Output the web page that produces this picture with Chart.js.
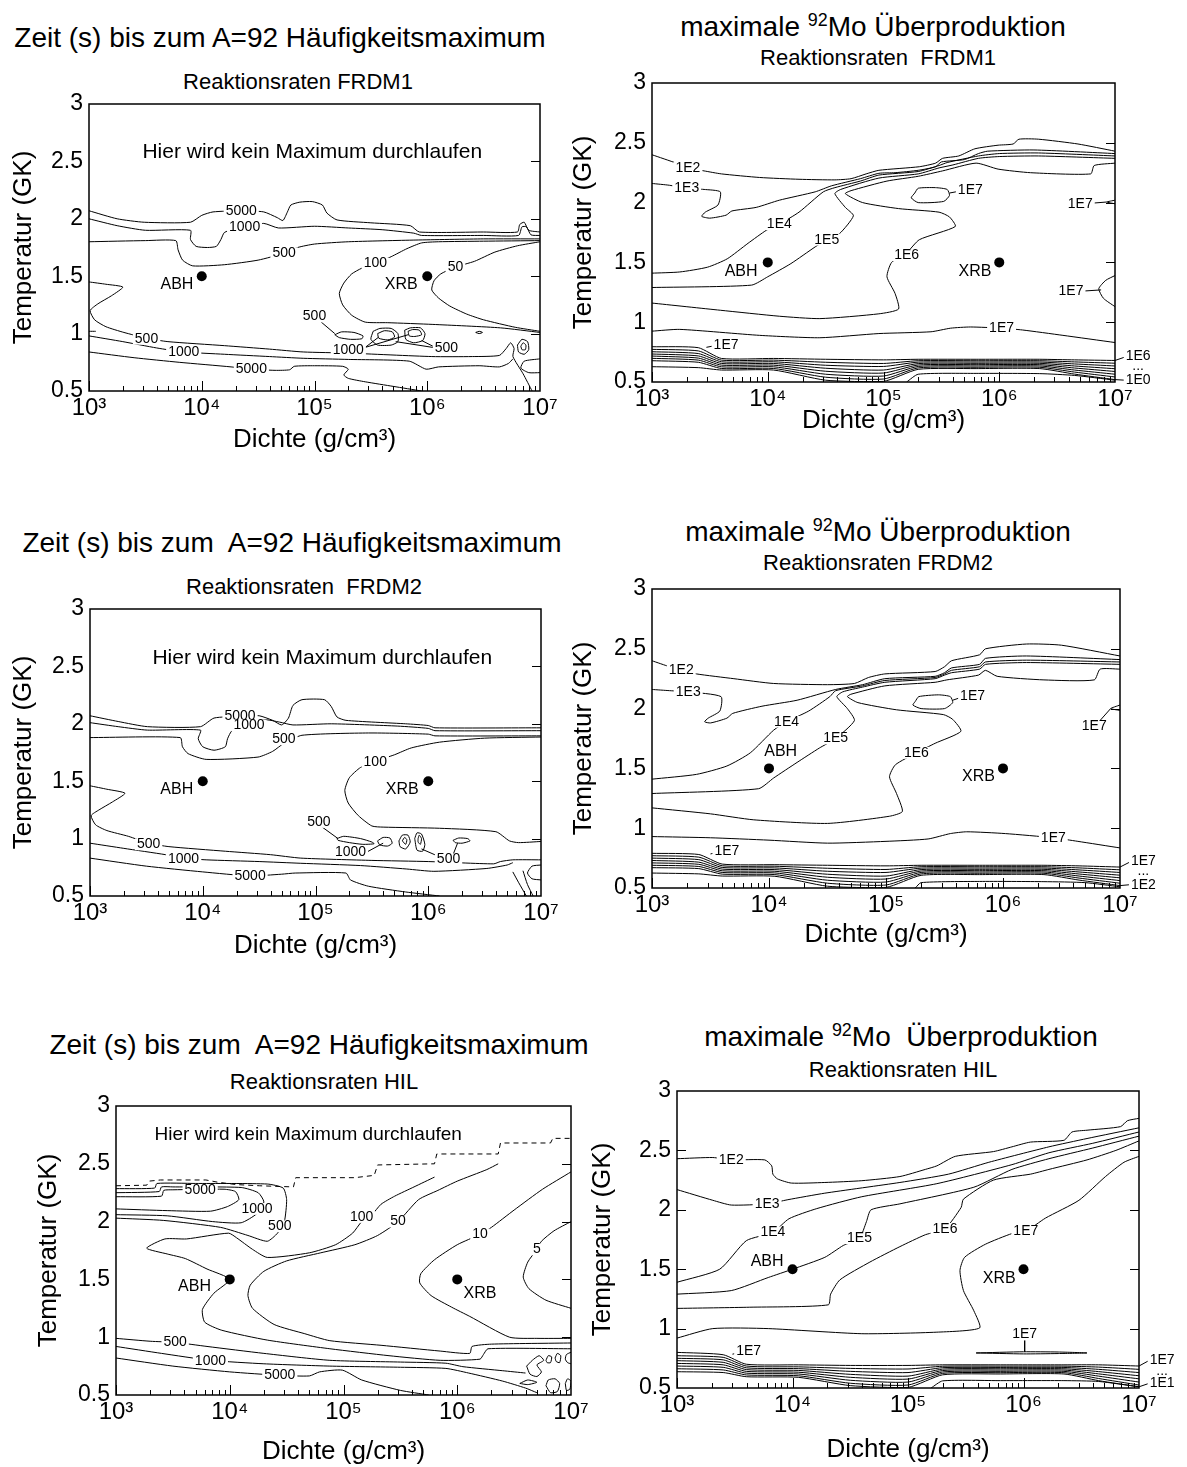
<!DOCTYPE html>
<html>
<head>
<meta charset="utf-8">
<script src="https://cdn.jsdelivr.net/npm/chart.js@4.4.1/dist/chart.umd.min.js"></script>
<style>
  body { margin: 0; background: #fff; width: 1187px; height: 1467px; position: relative; overflow: hidden; }
  canvas { position: absolute; }
  .ttl, .sub { position: absolute; transform: translate(-50%, -50%); white-space: nowrap; line-height: 1;
               font-family: "Liberation Sans", Arial, Helvetica, sans-serif; color: #000; }
  .ttl { font-size: 28px; }
  .sub { font-size: 22px; }
  .sp { font-size: 0.64em; position: relative; top: -0.55em; }
</style>
</head>
<body>
<div class="ttl" style="left:280px;top:38px">Zeit (s) bis zum A=92 Häufigkeitsmaximum</div>
<div class="sub" style="left:298px;top:82px">Reaktionsraten FRDM1</div>
<div class="ttl" style="left:873px;top:27px">maximale <span class="sp">92</span>Mo Überproduktion</div>
<div class="sub" style="left:878px;top:58px">Reaktionsraten&nbsp; FRDM1</div>
<div class="ttl" style="left:292px;top:543px">Zeit (s) bis zum&nbsp; A=92 Häufigkeitsmaximum</div>
<div class="sub" style="left:304px;top:587px">Reaktionsraten&nbsp; FRDM2</div>
<div class="ttl" style="left:878px;top:532px">maximale <span class="sp">92</span>Mo Überproduktion</div>
<div class="sub" style="left:878px;top:563px">Reaktionsraten FRDM2</div>
<div class="ttl" style="left:319px;top:1045px">Zeit (s) bis zum&nbsp; A=92 Häufigkeitsmaximum</div>
<div class="sub" style="left:324px;top:1082px">Reaktionsraten HIL</div>
<div class="ttl" style="left:901px;top:1037px">maximale <span class="sp">92</span>Mo&nbsp; Überproduktion</div>
<div class="sub" style="left:903px;top:1070px">Reaktionsraten HIL</div>

<script>
const FONT = '"Liberation Sans", Arial, Helvetica, sans-serif';

// axes
const densityDecades = [3, 4, 5, 6, 7];          // 10^3 ... 10^7 g/cm3
const tempTicks = [0.5, 1, 1.5, 2, 2.5, 3];       // GK
const SUP = { 3: '³', 4: '⁴', 5: '⁵', 6: '⁶', 7: '⁷' };

// the two marked sites (ABH, XRB)
const siteRho = [1e4, 1e6];
const siteT = [1.5, 1.5];

// contour points are [log10(density), T9]

// ---------- panel 1: time to A=92 maximum, FRDM1 ----------
const p1_5000a = [[3,2.07],[3.25,2.0],[3.49,1.97],[3.9,1.97],[4.0,2.03],[4.1,2.06],[4.35,2.07],[4.55,2.06],[4.67,2.01],[4.72,1.985],[4.76,2.06],[4.79,2.12],[4.87,2.145],[4.98,2.15],[5.07,2.12],[5.11,2.05],[5.2,1.99],[5.5,1.965],[5.85,1.94],[5.93,1.885],[6.5,1.885],[6.8,1.885],[6.82,1.95],[6.86,1.97],[6.9,1.9],[7,1.885]];
const p1_1000a = [[3,2.0],[3.25,1.94],[3.5,1.9],[3.9,1.9],[3.9,1.82],[3.95,1.76],[4.05,1.75],[4.13,1.76],[4.17,1.82],[4.2,1.88],[4.28,1.91],[4.38,1.93],[4.55,1.96],[4.68,1.92],[5.0,1.935],[5.3,1.92],[5.6,1.905],[5.88,1.875],[5.95,1.855],[6.5,1.855],[6.81,1.855],[6.84,1.93],[6.88,1.93],[6.92,1.86],[7,1.855]];
const p1_500a = [[3,1.8],[3.5,1.81],[3.77,1.81],[3.79,1.73],[3.83,1.64],[3.92,1.59],[4.2,1.6],[4.5,1.64],[4.73,1.7],[4.85,1.75],[5.0,1.78],[5.3,1.8],[5.9,1.815],[6.5,1.825],[7,1.825]];
const p1_100 = [[7,1.81],[6.5,1.805],[6.1,1.8],[5.95,1.79],[5.82,1.74],[5.68,1.67],[5.54,1.61],[5.42,1.57],[5.33,1.52],[5.26,1.44],[5.22,1.35],[5.25,1.25],[5.33,1.16],[5.45,1.1],[5.65,1.095],[6.05,1.08],[6.65,1.05],[7,1.01]];
const p1_50 = [[7,1.8],[6.8,1.765],[6.6,1.71],[6.42,1.63],[6.25,1.58],[6.12,1.52],[6.06,1.46],[6.04,1.38],[6.1,1.31],[6.2,1.24],[6.35,1.17],[6.5,1.12],[6.78,1.055],[7,1.02]];
const p1_500b = [[3,1.45],[3.15,1.43],[3.3,1.405],[3.2,1.33],[3.08,1.26],[3.01,1.2],[3.05,1.12],[3.15,1.06],[3.31,1.01],[3.51,0.96],[3.7,0.93],[4.2,0.895],[4.6,0.865],[4.9,0.84],[5.3,0.83],[6.04,0.8],[6.4,0.8],[6.64,0.81],[6.7,0.87],[6.74,0.92],[6.77,0.87],[6.76,0.8],[6.85,0.65],[6.93,0.5]];
const p1_edge = [[3,1.02],[3.06,1.02]];
const p1_1000b = [[3,0.98],[3.3,0.93],[3.6,0.875],[3.84,0.84],[4.2,0.82],[4.6,0.8],[4.9,0.785],[5.3,0.775],[5.84,0.76],[5.99,0.69],[6.1,0.71],[6.46,0.72],[6.64,0.71],[6.72,0.74],[6.76,0.78]];
const p1_5000b = [[3,0.84],[3.4,0.79],[3.8,0.75],[4.26,0.71],[4.44,0.69],[4.65,0.68],[4.78,0.685],[4.82,0.715],[5.0,0.72],[5.25,0.715],[5.3,0.69],[5.26,0.64],[5.3,0.61],[5.45,0.58],[5.7,0.54],[5.95,0.5]];
const p1_loopA = [[5.18,0.99],[5.24,1.015],[5.35,1.01],[5.43,0.98],[5.42,0.955],[5.32,0.95],[5.22,0.965],[5.18,0.99]];
const p1_loopB1 = [[5.52,1.02],[5.58,1.045],[5.68,1.045],[5.74,1.0],[5.74,0.93],[5.68,0.9],[5.56,0.9],[5.5,0.95],[5.52,1.02]];
const p1_loopB2 = [[5.56,1.0],[5.62,1.025],[5.69,1.015],[5.71,0.97],[5.65,0.945],[5.57,0.96],[5.56,1.0]];
const p1_loopC1 = [[5.8,1.03],[5.85,1.05],[5.94,1.05],[5.98,1.0],[5.96,0.94],[5.88,0.92],[5.81,0.95],[5.8,1.03]];
const p1_loopC2 = [[5.83,1.02],[5.87,1.035],[5.93,1.03],[5.95,0.99],[5.89,0.975],[5.84,0.98],[5.83,1.02]];
const p1_loopD = [[6.43,1.01],[6.46,1.02],[6.49,1.01],[6.46,1.0],[6.43,1.01]];
const p1_loopE1 = [[6.8,0.9],[6.84,0.95],[6.89,0.93],[6.9,0.86],[6.86,0.82],[6.81,0.84],[6.8,0.9]];
const p1_loopE2 = [[6.83,0.89],[6.85,0.92],[6.875,0.9],[6.87,0.86],[6.84,0.86],[6.83,0.89]];
const p1_edgeB = [[7,0.78],[6.86,0.76],[6.83,0.7],[6.9,0.66],[7,0.66]];
const p1_leaders = [[[5.06,1.1],[5.18,1.0]],[[5.45,0.88],[5.57,0.97]],[[5.45,0.88],[5.83,0.99]],[[6.08,0.875],[5.72,0.93]],[[6.08,0.875],[5.95,0.94]]];
const p1_levels = [['5000',4.35,2.07],['1000',4.38,1.93],['500',4.73,1.7],['100',5.54,1.61],['50',6.25,1.58],['500',3.51,0.955],['1000',3.84,0.835],['5000',4.44,0.69],['500',5.0,1.15],['1000',5.3,0.86],['500',6.17,0.87]];

// ---------- panel 2: max 92Mo overproduction, FRDM1 ----------
const p2_1E2 = [[3,2.4],[3.21,2.33],[3.31,2.29],[3.45,2.265],[3.6,2.24],[3.93,2.21],[4.27,2.195],[4.58,2.19],[4.72,2.2],[4.85,2.24],[4.96,2.27],[5.31,2.3],[5.45,2.33],[5.51,2.37],[5.65,2.39],[5.79,2.45],[5.99,2.48],[6.12,2.49],[6.17,2.53],[6.34,2.53],[6.68,2.49],[7,2.43]];
const p2_1E3 = [[3,2.16],[3.15,2.145],[3.3,2.12],[3.45,2.11],[3.59,2.09],[3.57,1.98],[3.46,1.92],[3.43,1.885],[3.5,1.87],[3.64,1.895],[3.69,1.93],[3.9,1.96],[4.1,2.02],[4.41,2.09],[4.55,2.14],[4.8,2.2],[4.96,2.245],[5.1,2.25],[5.3,2.27],[5.45,2.3],[5.5,2.34],[5.7,2.36],[5.82,2.41],[5.9,2.43],[6.3,2.44],[7,2.41]];
const p2_1E4 = [[3,1.41],[3.24,1.42],[3.48,1.46],[3.65,1.53],[3.83,1.66],[3.99,1.77],[4.1,1.82],[4.27,1.92],[4.48,2.09],[4.58,2.125],[4.8,2.18],[4.96,2.23],[5.3,2.26],[5.48,2.31],[5.55,2.335],[5.82,2.39],[6.0,2.41],[6.34,2.415],[7,2.39]];
const p2_1E5 = [[3,1.29],[3.86,1.31],[4.0,1.38],[4.2,1.49],[4.41,1.63],[4.51,1.69],[4.62,1.74],[4.74,1.89],[4.67,1.96],[4.58,2.075],[4.63,2.11],[4.96,2.205],[5.3,2.24],[5.48,2.29],[5.6,2.315],[5.82,2.37],[6.0,2.385],[6.34,2.39],[7,2.37]];
const p2_1E6 = [[3,1.16],[3.59,1.1],[4.1,1.05],[4.45,1.03],[4.96,1.07],[5.13,1.11],[5.1,1.24],[5.03,1.38],[5.07,1.5],[5.2,1.58],[5.31,1.69],[5.62,1.8],[5.57,1.88],[5.48,1.92],[5.13,1.95],[4.82,2.0],[4.67,2.075],[4.72,2.1],[5.03,2.18],[5.3,2.22],[5.51,2.265],[5.8,2.33],[5.99,2.28],[6.27,2.25],[6.79,2.24],[6.82,2.31],[7,2.33]];
const p2_1E7loop = [[5.27,2.08],[5.3,2.12],[5.45,2.125],[5.55,2.11],[5.57,2.06],[5.52,2.01],[5.3,2.0],[5.24,2.04],[5.27,2.08]];
const p2_1E7edge = [[7,2.02],[6.93,2.005],[7,1.99]];
const p2_1E7right = [[7,1.39],[6.92,1.35],[6.86,1.28],[6.9,1.2],[7,1.13]];
const p2_1E7long = [[3,0.925],[3.24,0.94],[3.93,0.89],[4.45,0.87],[4.96,0.905],[5.41,0.92],[5.58,0.95],[5.75,0.96],[6.02,0.95],[6.2,0.935],[6.55,0.89],[7,0.83]];
const bandE = [3, 3.4, 3.6, 4.05, 4.5, 5.0, 5.3, 5.8, 6.35, 6.65, 7];
const p2Band = [
  [0.795,0.787,0.697,0.697,0.69,0.685,0.69,0.69,0.69,0.685,0.68],
  [0.773,0.76,0.683,0.683,0.665,0.655,0.678,0.678,0.678,0.668,0.657],
  [0.753,0.738,0.669,0.669,0.64,0.63,0.666,0.667,0.667,0.651,0.634],
  [0.734,0.718,0.655,0.655,0.615,0.6,0.654,0.656,0.656,0.634,0.611],
  [0.717,0.7,0.641,0.641,0.59,0.575,0.642,0.645,0.645,0.617,0.588],
  [0.698,0.683,0.627,0.627,0.565,0.55,0.63,0.634,0.634,0.6,0.565],
  [0.678,0.665,0.613,0.613,0.54,0.525,0.618,0.623,0.623,0.583,0.542],
  [0.628,0.62,0.6,0.6,0.515,0.505,0.606,0.612,0.612,0.566,0.52]
];
const p2_lowest = [[5.2,0.5],[5.3,0.565],[5.8,0.572],[6.35,0.57],[6.65,0.555],[7,0.515]];
const p2_leaders = [[[5.57,2.08],[5.68,2.1]],[[6.93,2.005],[6.8,1.995]],[[6.88,1.27],[6.72,1.26]],[[3.47,0.79],[3.55,0.805]],[[7,0.68],[7.09,0.71]],[[7,0.52],[7.09,0.515]]];
const p2_levels = [['1E2',3.31,2.29],['1E3',3.3,2.12],['1E4',4.1,1.82],['1E5',4.51,1.69],['1E6',5.2,1.56],['1E7',5.75,2.1],['1E7',6.7,1.99],['1E7',6.62,1.26],['1E7',6.02,0.95],['1E7',3.64,0.81],['1E6',7.2,0.716],['...',7.2,0.635],['1E0',7.2,0.515]];

// ---------- panel 3: time to A=92 maximum, FRDM2 ----------
const p3_5000a = [[3,2.07],[3.25,2.02],[3.51,1.975],[3.98,1.975],[4.1,2.05],[4.33,2.065],[4.5,2.07],[4.62,2.03],[4.7,1.99],[4.76,2.05],[4.8,2.16],[4.88,2.21],[5.08,2.21],[5.14,2.15],[5.19,2.06],[5.27,2.03],[5.8,2.0],[6.0,1.985],[6.06,1.965],[7,1.965]];
const p3_1000a = [[3,2.01],[3.25,1.975],[3.51,1.945],[3.98,1.945],[3.96,1.87],[4.0,1.8],[4.1,1.77],[4.2,1.8],[4.22,1.87],[4.26,1.94],[4.41,1.985],[4.55,2.035],[4.68,2.015],[4.8,1.99],[5.14,2.0],[5.73,1.98],[6.0,1.96],[6.06,1.94],[7,1.94]];
const p3_500a = [[3,1.88],[3.8,1.88],[3.82,1.8],[3.87,1.74],[4.03,1.69],[4.49,1.71],[4.62,1.76],[4.72,1.83],[4.88,1.9],[5.47,1.92],[6.0,1.91],[6.06,1.895],[7,1.895]];
const p3_100 = [[7,1.885],[6.5,1.875],[6.1,1.84],[5.85,1.79],[5.7,1.73],[5.55,1.68],[5.4,1.62],[5.3,1.53],[5.26,1.42],[5.29,1.31],[5.38,1.2],[5.5,1.11],[5.6,1.1],[6.1,1.09],[6.6,1.06],[6.72,0.98],[6.8,0.965],[7,0.975]];
const p3_500b = [[3,1.46],[3.15,1.43],[3.31,1.395],[3.2,1.32],[3.08,1.25],[3.01,1.2],[3.05,1.12],[3.15,1.07],[3.34,1.02],[3.52,0.96],[3.7,0.93],[4.2,0.89],[4.6,0.86],[4.87,0.83],[5.5,0.81],[6.0,0.8],[6.58,0.78],[6.64,0.8],[6.75,0.815],[7,0.815]];
const p3_1000b = [[3,0.96],[3.3,0.915],[3.67,0.86],[3.83,0.83],[4.03,0.815],[4.5,0.8],[4.87,0.785],[5.4,0.765],[5.81,0.735],[6.05,0.715],[6.52,0.74],[6.7,0.77],[6.75,0.79]];
const p3_5000b = [[3,0.83],[3.5,0.76],[4.0,0.71],[4.42,0.675],[4.7,0.69],[4.82,0.7],[5.27,0.7],[5.31,0.64],[5.47,0.585],[5.8,0.535],[6.1,0.5]];
const p3_loopA = [[5.19,1.0],[5.25,1.02],[5.4,1.0],[5.5,0.97],[5.52,0.955],[5.42,0.95],[5.3,0.965],[5.2,0.985],[5.19,1.0]];
const p3_loopB = [[5.55,0.98],[5.6,1.01],[5.66,1.005],[5.68,0.96],[5.64,0.935],[5.57,0.945],[5.55,0.98]];
const p3_loopC1 = [[5.74,0.98],[5.77,1.03],[5.82,1.03],[5.84,0.97],[5.8,0.91],[5.75,0.93],[5.74,0.98]];
const p3_loopC2 = [[5.77,0.98],[5.79,1.01],[5.81,0.99],[5.8,0.95],[5.77,0.98]];
const p3_loopD1 = [[5.88,1.0],[5.9,1.05],[5.94,1.04],[5.97,0.95],[5.95,0.89],[5.9,0.9],[5.88,1.0]];
const p3_loopD2 = [[5.91,1.0],[5.92,1.03],[5.94,1.0],[5.93,0.95],[5.91,0.97],[5.91,1.0]];
const p3_loopE = [[6.22,0.985],[6.27,1.005],[6.35,1.0],[6.37,0.98],[6.3,0.96],[6.24,0.965],[6.22,0.985]];
const p3_cornerA = [[6.75,0.71],[6.8,0.62],[6.87,0.5]];
const p3_cornerB = [[6.84,0.72],[6.88,0.6],[6.93,0.5]];
const p3_cornerC = [[7,0.77],[6.92,0.76],[6.88,0.7],[6.92,0.65],[7,0.64]];
const p3_leaders = [[[5.06,1.1],[5.2,1.0]],[[5.45,0.88],[5.6,0.96]],[[6.08,0.85],[5.94,0.91]],[[6.22,0.86],[6.26,0.96]]];
const p3_levels = [['5000',4.33,2.07],['1000',4.41,1.985],['500',4.72,1.865],['100',5.53,1.67],['500',3.52,0.95],['1000',3.83,0.82],['5000',4.42,0.67],['500',5.03,1.145],['1000',5.31,0.88],['500',6.18,0.82]];

// ---------- panel 4: max 92Mo overproduction, FRDM2 ----------
const p4_1E2 = [[3,2.4],[3.15,2.35],[3.25,2.32],[3.38,2.29],[3.7,2.25],[4.04,2.21],[4.5,2.2],[4.73,2.21],[4.85,2.26],[4.99,2.29],[5.42,2.31],[5.5,2.35],[5.56,2.4],[5.8,2.45],[5.85,2.5],[6.2,2.54],[6.5,2.53],[7,2.44]];
const p4_1E3 = [[3,2.16],[3.15,2.15],[3.31,2.14],[3.59,2.1],[3.58,1.98],[3.48,1.92],[3.45,1.89],[3.5,1.88],[3.64,1.92],[3.69,1.96],[3.94,2.02],[4.24,2.07],[4.57,2.16],[4.8,2.2],[4.99,2.25],[5.42,2.27],[5.5,2.3],[5.56,2.34],[5.8,2.37],[5.85,2.42],[6.2,2.44],[7,2.41]];
const p4_1E4 = [[3,1.41],[3.38,1.45],[3.64,1.52],[3.84,1.63],[4.04,1.82],[4.15,1.89],[4.34,1.98],[4.52,2.1],[4.57,2.15],[4.8,2.19],[4.99,2.235],[5.42,2.26],[5.5,2.29],[5.56,2.32],[5.8,2.35],[5.85,2.39],[6.2,2.405],[7,2.39]];
const p4_1E5 = [[3,1.29],[3.91,1.33],[4.04,1.42],[4.24,1.55],[4.43,1.67],[4.57,1.75],[4.73,1.9],[4.67,2.0],[4.58,2.1],[4.63,2.14],[4.8,2.18],[4.99,2.22],[5.42,2.25],[5.5,2.28],[5.56,2.3],[5.8,2.33],[5.85,2.37],[6.2,2.385],[7,2.37]];
const p4_1E6 = [[3,1.17],[3.5,1.12],[3.87,1.07],[4.5,1.04],[5.03,1.1],[5.14,1.14],[5.09,1.29],[5.03,1.43],[5.08,1.53],[5.26,1.63],[5.42,1.71],[5.64,1.81],[5.57,1.91],[5.49,1.95],[5.09,1.99],[4.76,2.05],[4.67,2.1],[4.7,2.12],[4.99,2.19],[5.42,2.22],[5.52,2.24],[5.79,2.28],[5.85,2.32],[5.95,2.27],[6.35,2.24],[6.78,2.24],[6.83,2.33],[7,2.33]];
const p4_1E7loop = [[5.25,2.06],[5.28,2.1],[5.45,2.115],[5.55,2.1],[5.57,2.05],[5.5,2.0],[5.3,2.0],[5.23,2.03],[5.25,2.06]];
const p4_1E7edge = [[7,2.03],[6.92,2.0],[7,1.985]];
const p4_1E7long = [[3,0.93],[3.5,0.92],[4.0,0.9],[4.5,0.875],[5.0,0.89],[5.36,0.91],[5.55,0.955],[5.69,0.97],[6.02,0.955],[6.43,0.92],[6.64,0.89],[7,0.835]];
const p4Band = [
  [0.79,0.78,0.7,0.695,0.69,0.685,0.69,0.69,0.69,0.685,0.675],
  [0.77,0.758,0.686,0.682,0.665,0.655,0.678,0.678,0.678,0.668,0.652],
  [0.75,0.737,0.672,0.668,0.64,0.63,0.666,0.667,0.667,0.651,0.63],
  [0.73,0.716,0.658,0.654,0.615,0.6,0.654,0.656,0.656,0.634,0.607],
  [0.71,0.698,0.644,0.64,0.59,0.575,0.642,0.645,0.645,0.617,0.585],
  [0.69,0.68,0.63,0.626,0.565,0.55,0.63,0.634,0.634,0.6,0.562],
  [0.67,0.662,0.616,0.612,0.54,0.525,0.618,0.623,0.623,0.583,0.54],
  [0.625,0.618,0.6,0.598,0.515,0.505,0.606,0.612,0.612,0.566,0.52]
];
const p4_lowest = [[5.25,0.5],[5.3,0.545],[5.8,0.555],[6.35,0.553],[6.7,0.545],[7,0.51]];
const p4_leaders = [[[5.57,2.07],[5.66,2.1]],[[6.92,2.0],[6.82,1.89]],[[3.5,0.785],[3.57,0.8]],[[7,0.675],[7.09,0.72]],[[7,0.52],[7.09,0.528]]];
const p4_levels = [['1E2',3.25,2.32],['1E3',3.31,2.14],['1E4',4.15,1.89],['1E5',4.57,1.75],['1E6',5.26,1.63],['1E7',5.74,2.1],['1E7',6.78,1.85],['1E7',6.43,0.92],['1E7',3.64,0.81],['1E7',7.2,0.723],['...',7.2,0.64],['1E2',7.2,0.528]];

// ---------- panel 5: time to A=92 maximum, HIL ----------
const p5_dash = [[3,2.31],[3.27,2.315],[3.29,2.35],[3.39,2.36],[3.79,2.36],[3.9,2.34],[4.06,2.32],[4.26,2.31],[4.56,2.3],[4.58,2.38],[5.1,2.38],[5.27,2.4],[5.3,2.49],[5.8,2.5],[5.82,2.585],[6.36,2.585],[6.38,2.68],[6.82,2.68],[6.84,2.72],[7,2.72]];
const p5_500t = [[3,2.03],[3.42,2.01],[3.92,1.95],[4.16,1.88],[4.33,1.83],[4.42,1.9],[4.48,2.0],[4.5,2.19],[4.47,2.29],[4.33,2.325],[3.7,2.33],[3.36,2.33],[3.34,2.29],[3,2.285]];
const p5_1000t = [[3,2.06],[3.45,2.05],[3.85,2.0],[4.1,1.99],[4.24,2.07],[4.3,2.17],[4.25,2.25],[4.1,2.295],[3.5,2.3],[3.4,2.3],[3.38,2.26],[3,2.25]];
const p5_5000t = [[3,2.11],[3.45,2.095],[3.83,2.09],[3.98,2.13],[4.08,2.19],[4.05,2.26],[3.95,2.28],[3.5,2.275],[3.42,2.27],[3.4,2.22],[3,2.215]];
const p5_100 = [[5.8,2.385],[5.62,2.3],[5.45,2.22],[5.33,2.15],[5.25,2.06],[5.16,2.0],[5.08,1.9],[4.93,1.8],[4.7,1.73],[4.33,1.69],[4.2,1.76],[4.06,1.86],[3.99,1.9],[3.62,1.85],[3.43,1.85],[3.27,1.77],[3.45,1.72],[3.61,1.68],[3.8,1.59],[4.0,1.5],[3.86,1.38],[3.76,1.24],[3.78,1.13],[3.93,1.06],[4.33,0.975],[4.88,0.9],[5.4,0.84],[5.85,0.8],[6.2,0.81],[6.23,0.85],[6.27,0.9],[7,0.9]];
const p5_50 = [[6.36,2.5],[6.26,2.45],[6.0,2.35],[5.83,2.27],[5.66,2.19],[5.48,2.0],[5.3,1.88],[5.1,1.8],[4.8,1.73],[4.5,1.66],[4.3,1.57],[4.18,1.45],[4.16,1.36],[4.2,1.25],[4.39,1.11],[4.66,1.03],[4.88,0.97],[5.33,0.93],[5.85,0.88],[6.11,0.86],[6.13,0.92],[6.3,0.94],[7,0.95]];
const p5_10 = [[7,2.43],[6.75,2.28],[6.5,2.1],[6.3,1.95],[6.2,1.89],[6.0,1.8],[5.8,1.67],[5.68,1.55],[5.67,1.47],[5.77,1.36],[5.95,1.26],[6.11,1.18],[6.46,1.0],[6.7,0.99],[7,0.99]];
const p5_5 = [[7,2.0],[6.85,1.92],[6.74,1.83],[6.7,1.76],[6.62,1.65],[6.58,1.52],[6.63,1.42],[6.78,1.32],[7,1.25]];
const p5_500b = [[3,0.99],[3.3,0.965],[3.52,0.955],[3.8,0.92],[4.3,0.86],[4.88,0.8],[5.5,0.785],[5.9,0.775],[6.05,0.745],[6.4,0.71],[6.6,0.69]];
const p5_1000b = [[3,0.92],[3.4,0.86],[3.83,0.8],[4.3,0.77],[4.88,0.75],[5.5,0.74],[5.9,0.73],[6.1,0.69],[6.4,0.62],[6.6,0.56],[6.7,0.52]];
const p5_5000b = [[3,0.82],[3.5,0.75],[4.0,0.7],[4.44,0.67],[4.7,0.665],[4.79,0.7],[4.99,0.715],[5.16,0.63],[5.5,0.54],[5.75,0.5]];
const p5_loopA = [[6.61,0.75],[6.66,0.8],[6.72,0.84],[6.76,0.8],[6.7,0.76],[6.74,0.7],[6.7,0.66],[6.64,0.68],[6.61,0.75]];
const p5_loopB = [[6.78,0.8],[6.8,0.84],[6.83,0.83],[6.82,0.78],[6.79,0.78],[6.78,0.8]];
const p5_loopC = [[6.86,0.82],[6.88,0.86],[6.91,0.84],[6.9,0.78],[6.87,0.79],[6.86,0.82]];
const p5_loopD = [[7,0.87],[6.96,0.85],[6.95,0.81],[6.97,0.78],[7,0.77]];
const p5_loopE = [[6.78,0.58],[6.8,0.63],[6.86,0.64],[6.9,0.6],[6.88,0.53],[6.82,0.52],[6.78,0.58]];
const p5_loopF = [[6.95,0.6],[6.97,0.64],[7,0.62],[6.99,0.55],[6.96,0.54],[6.95,0.6]];
const p5_loopG = [[6.55,0.6],[6.62,0.63],[6.7,0.61],[6.62,0.59],[6.55,0.6]];
const p5_levels = [['5000',3.74,2.27],['1000',4.24,2.11],['500',4.44,1.96],['100',5.16,2.04],['50',5.48,2.0],['10',6.2,1.89],['5',6.7,1.76],['500',3.52,0.96],['1000',3.83,0.79],['5000',4.44,0.67]];

// ---------- panel 6: max 92Mo overproduction, HIL ----------
const p6_1E2 = [[3,2.43],[3.31,2.44],[3.47,2.42],[3.76,2.42],[3.82,2.37],[3.83,2.3],[3.87,2.26],[3.99,2.225],[4.28,2.23],[4.6,2.245],[4.93,2.28],[5.15,2.34],[5.25,2.37],[5.41,2.45],[5.74,2.49],[5.9,2.53],[6.06,2.57],[6.35,2.585],[6.42,2.655],[6.55,2.67],[6.84,2.7],[6.9,2.75],[7,2.77]];
const p6_1E3 = [[3,2.17],[3.31,2.08],[3.47,2.04],[3.78,2.05],[3.96,2.085],[4.28,2.14],[4.93,2.23],[5.35,2.3],[5.7,2.4],[6.22,2.53],[6.55,2.6],[7,2.69]];
const p6_1E4 = [[3,1.39],[3.37,1.5],[3.6,1.74],[3.83,1.81],[3.97,1.925],[4.21,2.01],[4.6,2.11],[5.25,2.22],[5.9,2.38],[6.22,2.48],[6.6,2.56],[7,2.655]];
const p6_1E5 = [[3,1.29],[3.47,1.32],[3.79,1.43],[4.0,1.5],[4.28,1.6],[4.44,1.7],[4.58,1.76],[4.64,1.9],[4.68,2.0],[4.93,2.05],[5.57,2.19],[5.9,2.34],[6.22,2.43],[6.6,2.52],[7,2.62]];
const p6_1E6 = [[3,1.17],[3.63,1.18],[4.31,1.2],[4.33,1.29],[4.41,1.41],[4.67,1.56],[4.93,1.69],[5.15,1.79],[5.32,1.84],[5.46,2.02],[5.48,2.09],[5.74,2.25],[6.06,2.3],[6.22,2.34],[6.55,2.42],[6.8,2.5],[7,2.58]];
const p6_1E7 = [[3,0.92],[3.31,1.0],[3.79,1.0],[4.6,0.957],[5.25,0.97],[5.62,1.005],[5.57,1.15],[5.48,1.32],[5.45,1.49],[5.49,1.6],[5.67,1.71],[5.9,1.8],[6.02,1.82],[6.19,1.93],[6.48,2.08],[6.71,2.28],[6.87,2.4],[7,2.45]];
const p6_1E7thin = [[5.59,0.795],[6.0,0.805],[6.3,0.803],[6.55,0.795],[6.3,0.79],[6.0,0.787],[5.59,0.795]];
const p6Band = [
  [0.8,0.78,0.7,0.695,0.69,0.69,0.695,0.695,0.695,0.695,0.685],
  [0.772,0.758,0.685,0.678,0.665,0.66,0.683,0.684,0.684,0.676,0.657],
  [0.75,0.737,0.67,0.663,0.64,0.63,0.671,0.673,0.673,0.657,0.63],
  [0.73,0.716,0.655,0.648,0.615,0.6,0.659,0.662,0.662,0.638,0.603],
  [0.707,0.695,0.64,0.633,0.59,0.575,0.647,0.651,0.651,0.619,0.577],
  [0.685,0.674,0.625,0.618,0.565,0.55,0.635,0.64,0.64,0.6,0.55],
  [0.662,0.652,0.61,0.603,0.54,0.525,0.623,0.629,0.629,0.58,0.525],
  [0.637,0.63,0.595,0.59,0.52,0.505,0.611,0.618,0.618,0.562,0.51]
];
const p6_lowest = [[5.2,0.5],[5.3,0.56],[5.8,0.562],[6.35,0.562],[6.65,0.555],[7,0.51]];
const p6_leaders = [[[6.01,0.93],[6.01,0.805]],[[3.48,0.785],[3.56,0.8]],[[7,0.685],[7.09,0.733]],[[7,0.51],[7.09,0.54]]];
const p6_levels = [['1E2',3.47,2.42],['1E3',3.78,2.05],['1E4',3.83,1.81],['1E5',4.58,1.76],['1E6',5.32,1.84],['1E7',6.02,1.82],['1E7',6.01,0.95],['1E7',3.62,0.81],['1E7',7.2,0.733],['...',7.2,0.64],['1E1',7.2,0.54]];

const NOTE = 'Hier wird kein Maximum durchlaufen';

function bandLines(rows) {
  return rows.map(r => r.map((t, i) => [bandE[i], t]));
}

const panels = [
  { box: [89, 104, 540, 391], yTitleX: 24, xTitleY: 440,
    lines: [p1_5000a, p1_1000a, p1_500a, p1_100, p1_50, p1_500b, p1_edge, p1_1000b, p1_5000b, p1_loopA, p1_loopB1, p1_loopB2, p1_loopC1, p1_loopC2, p1_loopD, p1_loopE1, p1_loopE2, p1_edgeB],
    leaders: p1_leaders, levels: p1_levels,
    notes: [[NOTE, 4.98, 2.58, 21], ['ABH', 3.78, 1.43, 16], ['XRB', 5.77, 1.43, 16]] },
  { box: [652, 83, 1115, 382], yTitleX: 584, xTitleY: 421,
    lines: [p2_1E2, p2_1E3, p2_1E4, p2_1E5, p2_1E6, p2_1E7loop, p2_1E7edge, p2_1E7right, p2_1E7long, ...bandLines(p2Band), p2_lowest],
    leaders: p2_leaders, levels: p2_levels,
    notes: [['ABH', 3.77, 1.42, 16], ['XRB', 5.79, 1.42, 16]] },
  { box: [90, 609, 541, 896], yTitleX: 24, xTitleY: 946,
    lines: [p3_5000a, p3_1000a, p3_500a, p3_100, p3_500b, p3_1000b, p3_5000b, p3_loopA, p3_loopB, p3_loopC1, p3_loopC2, p3_loopD1, p3_loopD2, p3_loopE, p3_cornerA, p3_cornerB, p3_cornerC],
    leaders: p3_leaders, levels: p3_levels,
    notes: [[NOTE, 5.06, 2.57, 21], ['ABH', 3.77, 1.43, 16], ['XRB', 5.77, 1.43, 16]] },
  { box: [652, 589, 1120, 888], yTitleX: 584, xTitleY: 935,
    lines: [p4_1E2, p4_1E3, p4_1E4, p4_1E5, p4_1E6, p4_1E7loop, p4_1E7edge, p4_1E7long, ...bandLines(p4Band), p4_lowest],
    leaders: p4_leaders, levels: p4_levels,
    notes: [['ABH', 4.1, 1.64, 16], ['XRB', 5.79, 1.43, 16]] },
  { box: [116, 1106, 571, 1395], yTitleX: 49, xTitleY: 1452,
    lines: [p5_500t, p5_1000t, p5_5000t, p5_100, p5_50, p5_10, p5_5, p5_500b, p5_1000b, p5_5000b, p5_loopA, p5_loopB, p5_loopC, p5_loopD, p5_loopE, p5_loopF, p5_loopG],
    dashed: [p5_dash], leaders: [], levels: p5_levels,
    notes: [[NOTE, 4.69, 2.75, 19], ['ABH', 3.69, 1.44, 16], ['XRB', 6.2, 1.38, 16]] },
  { box: [677, 1091, 1139, 1388], yTitleX: 603, xTitleY: 1450, leftTicks: true,
    lines: [p6_1E2, p6_1E3, p6_1E4, p6_1E5, p6_1E6, p6_1E7, p6_1E7thin, ...bandLines(p6Band), p6_lowest],
    leaders: p6_leaders, levels: p6_levels,
    notes: [['ABH', 3.78, 1.56, 16], ['XRB', 5.79, 1.42, 16]] }
];

function toXY(arr) {
  return arr.map(([e, t]) => ({ x: Math.pow(10, e), y: t }));
}

// white-backed contour values and plain annotations, placed in data space
function textPlugin(p) {
  return {
    id: 'contourText',
    afterDatasetsDraw(chart) {
      const { ctx, scales: { x, y } } = chart;
      ctx.save();
      ctx.textAlign = 'center';
      ctx.textBaseline = 'middle';
      const draw = (txt, e, t, size, bg) => {
        ctx.font = size + 'px ' + FONT;
        const px = x.getPixelForValue(Math.pow(10, e));
        const py = y.getPixelForValue(t);
        if (bg) {
          const w = ctx.measureText(txt).width;
          ctx.fillStyle = '#fff';
          ctx.fillRect(px - w / 2 - 2, py - size * 0.42, w + 4, size * 0.84);
        }
        ctx.fillStyle = '#000';
        ctx.fillText(txt, px, py);
      };
      p.levels.forEach(([txt, e, t]) => draw(txt, e, t, 14, txt !== '...'));
      p.notes.forEach(([txt, e, t, s]) => draw(txt, e, t, s, false));
      ctx.restore();
    }
  };
}

// frame plus inward tick marks
function framePlugin(p) {
  return {
    id: 'frameTicks',
    afterDraw(chart) {
      const { ctx, chartArea: a, scales: { x, y } } = chart;
      ctx.save();
      ctx.strokeStyle = '#000';
      ctx.lineWidth = 1.5;
      ctx.strokeRect(a.left, a.top, a.right - a.left, a.bottom - a.top);
      ctx.lineWidth = 1;
      ctx.beginPath();
      for (let n = 3; n < 7; n++) {
        for (let k = 1; k < 10; k++) {
          const px = Math.round(x.getPixelForValue(k * Math.pow(10, n))) + 0.5;
          ctx.moveTo(px, a.bottom);
          ctx.lineTo(px, a.bottom - (k === 1 ? 10 : 5));
        }
      }
      tempTicks.slice(1, -1).forEach(v => {
        const py = Math.round(y.getPixelForValue(v)) + 0.5;
        ctx.moveTo(a.right, py);
        ctx.lineTo(a.right - 9, py);
        if (p.leftTicks) {
          ctx.moveTo(a.left, py);
          ctx.lineTo(a.left + 9, py);
        }
      });
      ctx.stroke();
      ctx.restore();
    }
  };
}

function buildPanel(p) {
  const [L, T, R, B] = p.box;
  const padL = 95, padR = 60, padT = 20, padB = 80;
  const cv = document.createElement('canvas');
  cv.width = R - L + padL + padR;
  cv.height = B - T + padT + padB;
  cv.style.left = (L - padL) + 'px';
  cv.style.top = (T - padT) + 'px';
  document.body.appendChild(cv);

  const base = { showLine: true, borderColor: '#000', borderWidth: 1, pointRadius: 0, fill: false };
  const datasets = [];
  p.lines.forEach(l => datasets.push({ ...base, data: toXY(l), tension: 0.2 }));
  (p.dashed || []).forEach(l => datasets.push({ ...base, data: toXY(l), tension: 0, borderDash: [5, 4] }));
  (p.leaders || []).forEach(l => datasets.push({ ...base, data: toXY(l), tension: 0, clip: false }));
  datasets.push({
    data: siteRho.map((r, i) => ({ x: r, y: siteT[i] })),
    showLine: false, pointRadius: 5, pointBackgroundColor: '#000', pointBorderWidth: 0
  });

  new Chart(cv, {
    type: 'scatter',
    data: { datasets },
    options: {
      responsive: false,
      animation: false,
      events: [],
      layout: { padding: { left: 0, top: padT, right: padR, bottom: 0 } },
      plugins: { legend: { display: false }, tooltip: { enabled: false } },
      scales: {
        x: {
          type: 'logarithmic', min: 1e3, max: 1e7,
          grid: { display: false, drawTicks: false },
          border: { display: false },
          afterBuildTicks: s => { s.ticks = densityDecades.map(n => ({ value: Math.pow(10, n) })); },
          afterFit: s => { s.height = padB; },
          ticks: {
            autoSkip: false, maxRotation: 0, padding: 3, color: '#000',
            font: { size: 24, family: FONT },
            callback: v => '10' + SUP[Math.round(Math.log10(v))]
          },
          title: {
            display: true, text: 'Dichte (g/cm³)', color: '#000',
            font: { size: 26, family: FONT },
            padding: { top: 0, bottom: B + padB - p.xTitleY - 15.6 }
          }
        },
        y: {
          min: 0.5, max: 3,
          grid: { display: false, drawTicks: false },
          border: { display: false },
          afterBuildTicks: s => { s.ticks = tempTicks.map(v => ({ value: v })); },
          afterFit: s => { s.width = padL; },
          ticks: { padding: 6, color: '#000', font: { size: 23, family: FONT }, callback: v => String(v) },
          title: {
            display: true, text: 'Temperatur (GK)', color: '#000',
            font: { size: 26, family: FONT },
            padding: { top: p.yTitleX - (L - padL) - 15.6, bottom: 0 }
          }
        }
      }
    },
    plugins: [textPlugin(p), framePlugin(p)]
  });
}

panels.forEach(buildPanel);
</script>
</body>
</html>
